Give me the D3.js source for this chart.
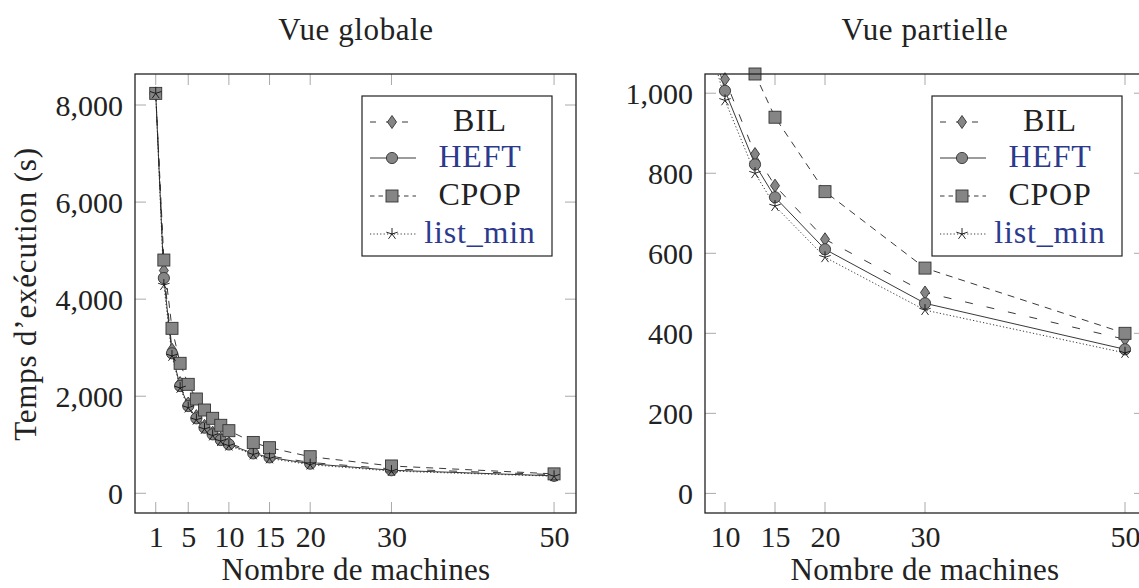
<!DOCTYPE html>
<html><head><meta charset="utf-8">
<script src="https://cdn.jsdelivr.net/npm/d3@7"></script>
<style>
html,body{margin:0;padding:0;background:#fff;}
svg text{font-family:"Liberation Serif","Times New Roman",serif;fill:#222;}
</style></head>
<body><svg id="c" width="1139" height="588"></svg>
<script>
const machines = [1,2,3,4,5,6,7,8,9,10,13,15,20,30,50];
const bil     = [8240,4590,2960,2270,1850,1590,1390,1250,1130,1035,848,769,635,502,385];
const heft    = [8240,4435,2884,2210,1798,1545,1352,1215,1098,1006,822,740,610,475,360];
const cpop    = [8240,4806,3399,2678,2245,1943,1716,1545,1401,1290,1048,940,754,563,400];
const listMin = [8240,4290,2830,2170,1765,1515,1325,1190,1075,982,800,718,590,458,351];

const seriesNames = ["BIL","HEFT","CPOP","list_min"];
const seriesValues = [bil, heft, cpop, listMin];

const leftXTicks = [1,5,10,15,20,30,50];
const leftYTicks = [0,2000,4000,6000,8000];
const rightXTicks = [10,15,20,30,50];
const rightYTicks = [0,200,400,600,800,1000];

const titles = ["Vue globale","Vue partielle"];
const xLabel = "Nombre de machines";
const yLabel = "Temps d\u2019exécution (s)";

const styles = [
  {dash:"8,14", marker:"diamond", text:"#222"},
  {dash:null, marker:"circle", text:"#2b3a8c"},
  {dash:"7,6", marker:"square", text:"#222"},
  {dash:"1.2,2.2", marker:"star", text:"#2b3a8c"}
];

const svg = d3.select("#c");

function drawMarker(g, type, x, y){
  const fill="#858585", stroke="#333";
  if(type==="circle"){
    g.append("circle").attr("cx",x).attr("cy",y).attr("r",5.6).attr("fill",fill).attr("stroke",stroke).attr("stroke-width",0.9);
  } else if(type==="square"){
    g.append("rect").attr("x",x-6).attr("y",y-6).attr("width",12).attr("height",12).attr("fill",fill).attr("stroke",stroke).attr("stroke-width",0.9);
  } else if(type==="diamond"){
    g.append("path").attr("d",`M${x},${y-6.5}L${x+4.5},${y}L${x},${y+6.5}L${x-4.5},${y}Z`).attr("fill",fill).attr("stroke",stroke).attr("stroke-width",0.9);
  } else if(type==="star"){
    const pts=[];
    for(let i=0;i<5;i++){
      const a=-Math.PI/2+i*2*Math.PI/5;
      pts.push(`M${x},${y}L${x+6*Math.cos(a)},${y+6*Math.sin(a)}`);
    }
    g.append("path").attr("d",pts.join("")).attr("fill","none").attr("stroke","#111").attr("stroke-width",0.9);
  }
}

function panel(opts){
  const {x0,x1,y0,y1,xd,yd,xt,yt,title,legendX,id,titleX} = opts;
  const xs = d3.scaleLinear().domain(xd).range([x0,x1]);
  const ys = d3.scaleLinear().domain(yd).range([y1,y0]);
  const g = svg.append("g");
  svg.append("clipPath").attr("id",id).append("rect").attr("x",x0).attr("y",y0).attr("width",x1-x0).attr("height",y1-y0);

  const tg = g.append("g").attr("stroke","#aaa").attr("stroke-width",1);
  const tl = 11;
  xt.forEach(v=>{
    const px = xs(v);
    tg.append("line").attr("x1",px).attr("x2",px).attr("y1",y1).attr("y2",y1-tl);
    tg.append("line").attr("x1",px).attr("x2",px).attr("y1",y0).attr("y2",y0+tl);
  });
  yt.forEach(v=>{
    const py = ys(v);
    tg.append("line").attr("x1",x0).attr("x2",x0+tl).attr("y1",py).attr("y2",py);
    tg.append("line").attr("x1",x1).attr("x2",x1-tl).attr("y1",py).attr("y2",py);
  });

  const xAxis = d3.axisBottom(xs).tickValues(xt).tickSize(0).tickPadding(0).tickFormat(d3.format("d"));
  const xa = g.append("g").attr("transform",`translate(0,${y1})`).call(xAxis);
  xa.select(".domain").remove();
  xa.selectAll("text").attr("y",34).attr("dy",null).attr("font-size",30).attr("font-family","Liberation Serif").attr("fill","#222");
  const yAxis = d3.axisLeft(ys).tickValues(yt).tickSize(0).tickPadding(0).tickFormat(d3.format(","));
  const ya = g.append("g").attr("transform",`translate(${x0-12},0)`).call(yAxis);
  ya.select(".domain").remove();
  ya.selectAll("text").attr("x",0).attr("dy","0.34em").attr("font-size",30).attr("font-family","Liberation Serif").attr("fill","#222");

  const pg = g.append("g");
  seriesValues.forEach((vals,si)=>{
    const st = styles[si];
    const data = machines.map((m,i)=>[m,vals[i]]);
    const line = d3.line().x(d=>xs(d[0])).y(d=>ys(d[1]));
    pg.append("path").attr("d",line(data)).attr("fill","none").attr("stroke","#222").attr("stroke-width",0.9)
      .attr("stroke-dasharray",st.dash).attr("clip-path",`url(#${id})`);
  });
  seriesValues.forEach((vals,si)=>{
    const st = styles[si];
    const mg = pg.append("g");
    machines.forEach((m,i)=>{
      const v=vals[i];
      if(m>=xd[0] && m<=xd[1] && v>=yd[0] && v<=yd[1]+2) drawMarker(mg, st.marker, xs(m), ys(v));
    });
  });

  g.append("rect").attr("x",x0).attr("y",y0).attr("width",x1-x0).attr("height",y1-y0)
    .attr("fill","none").attr("stroke","#222").attr("stroke-width",1.3);

  g.append("text").attr("x",titleX).attr("y",40).attr("text-anchor","middle").attr("font-size",31).attr("letter-spacing",0.6).text(title);
  g.append("text").attr("x",titleX).attr("y",580).attr("text-anchor","middle").attr("font-size",31).attr("letter-spacing",0.3).text(xLabel);

  const lg = g.append("g").attr("transform",`translate(${legendX},96)`);
  lg.append("rect").attr("x",0).attr("y",0).attr("width",190).attr("height",160).attr("fill","#fff").attr("stroke","#222").attr("stroke-width",1.2);
  const rowsY=[26,62,100,138];
  seriesNames.forEach((n,si)=>{
    const st=styles[si], ry=rowsY[si];
    lg.append("line").attr("x1",8).attr("x2",54).attr("y1",ry).attr("y2",ry).attr("stroke","#222").attr("stroke-width",0.9)
      .attr("stroke-dasharray", si===0?"6,10": si===2?"4.5,4": st.dash);
    drawMarker(lg, st.marker, 30, ry);
    lg.append("text").attr("x",118).attr("y",ry+9).attr("text-anchor","middle").attr("font-size",32).attr("letter-spacing",0.8)
      .style("fill",st.text).text(n);
  });
}

panel({id:"clipL",x0:135,x1:576,y0:74,y1:513,xd:[-1.55,52.7],yd:[-406,8639],xt:leftXTicks,yt:leftYTicks,
  title:titles[0],legendX:362,titleX:356});
panel({id:"clipR",x0:705,x1:1145,y0:74,y1:513,xd:[8,52],yd:[-49,1048],xt:rightXTicks,yt:rightYTicks,
  title:titles[1],legendX:932,titleX:925});

svg.append("text").attr("transform","translate(36,294) rotate(-90)").attr("text-anchor","middle").attr("font-size",31).attr("letter-spacing",0.8).text(yLabel);
</script></body></html>
